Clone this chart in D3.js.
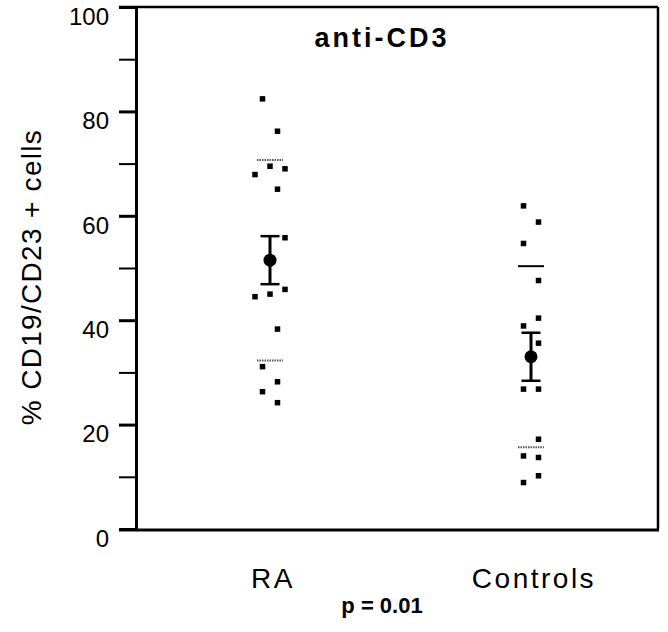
<!DOCTYPE html>
<html>
<head>
<meta charset="utf-8">
<script src="https://cdn.jsdelivr.net/npm/d3@7"></script>
<style>
  body { margin: 0; background: #fff; }
  text { font-family: "Liberation Sans", Arial, Helvetica, sans-serif; fill: #000; }
</style>
</head>
<body>
<script>
// config
const config = {
  svgWidth: 668,
  svgHeight: 632,
  left: 136, // plot frame
  right: 658,
  top: 7,
  bottom: 529,
  tickSize: 17,
  slotWidth: 7.5, // horizontal spread of the scatter columns
  pointSize: 5.5,
  meanRadius: 6.5,
  capWidth: 19,
  sdWidth: 26,
};

// data
const groups = ['RA', 'Controls'];
const raValues = [82.4, 76.2, 69.5, 69.0, 67.9, 65.1, 55.8, 45.9, 45.0, 44.5, 38.3, 31.1, 28.2, 26.3, 24.2];
const raSlots = [-1, 1, 0, 2, -2, 1, 2, 2, 0, -2, 1, -1, 1, -1, 1];
const controlValues = [61.9, 58.8, 54.7, 47.6, 40.4, 38.9, 35.6, 26.8, 26.8, 17.2, 14.0, 13.7, 10.2, 8.9];
const controlSlots = [-1, 1, -1, 1, 1, -1, 1, -1, 1, 1, -1, 1, 1, -1];
const groupMeans = [51.5, 33.0];
const groupSEMs = [4.6, 4.6];
const groupSDs = [19.2, 17.35];
const yTicks = [0, 10, 20, 30, 40, 50, 60, 70, 80, 90, 100];
const yLabelTicks = [0, 20, 40, 60, 80, 100];

const points = [];
raValues.forEach((v, i) => points.push({ group: 'RA', value: v, slot: raSlots[i] }));
controlValues.forEach((v, i) => points.push({ group: 'Controls', value: v, slot: controlSlots[i] }));

const summary = groups.map((g, i) => ({ group: g, mean: groupMeans[i], sem: groupSEMs[i], sd: groupSDs[i] }));

// setup
let svg = d3.select('body')
  .append('svg')
  .attr('width', config.svgWidth)
  .attr('height', config.svgHeight);

let x = d3.scalePoint()
  .domain(groups)
  .range([139.5, 661.5])
  .padding(0.5);

let y = d3.scaleLinear()
  .domain([0, 100])
  .range([config.bottom, config.top]);

// frame
svg.append('line')
  .attr('x1', config.left - config.tickSize).attr('x2', config.right)
  .attr('y1', config.top).attr('y2', config.top)
  .attr('stroke', '#000').attr('stroke-width', 2.5);
svg.append('line')
  .attr('x1', config.right).attr('x2', config.right)
  .attr('y1', config.top).attr('y2', config.bottom)
  .attr('stroke', '#000').attr('stroke-width', 2.5);
svg.append('line')
  .attr('x1', config.left - config.tickSize).attr('x2', config.right + 1)
  .attr('y1', config.bottom + 1).attr('y2', config.bottom + 1)
  .attr('stroke', '#000').attr('stroke-width', 3);

// y axis, labels sit just below their tick as in the scan
let yAxis = d3.axisLeft(y)
  .tickValues(yTicks)
  .tickSize(config.tickSize)
  .tickSizeOuter(0)
  .tickPadding(10)
  .tickFormat((d) => yLabelTicks.includes(d) ? d : '');

let axisG = svg.append('g')
  .attr('transform', `translate(${config.left},0)`)
  .call(yAxis);

axisG.select('.domain')
  .attr('stroke-width', 3);
axisG.selectAll('.tick line')
  .attr('stroke-width', (d) => yLabelTicks.includes(d) ? 3 : 2);
axisG.selectAll('.tick text')
  .attr('dy', '0.72em')
  .style('font-size', '24px')
  .style('font-family', '"Liberation Sans", Arial, sans-serif');

// y axis title
svg.append('text')
  .attr('transform', 'translate(41,277) rotate(-90)')
  .attr('text-anchor', 'middle')
  .style('font-size', '28px')
  .style('letter-spacing', '1.3px')
  .text('% CD19/CD23 + cells');

// chart title
svg.append('text')
  .attr('x', 382)
  .attr('y', 47)
  .attr('text-anchor', 'middle')
  .style('font-size', '27px')
  .style('font-weight', 'bold')
  .style('letter-spacing', '3px')
  .text('anti-CD3');

// group labels
svg.selectAll('.groupLabel')
  .data(groups)
  .enter().append('text')
  .attr('class', 'groupLabel')
  .attr('x', (d) => x(d) + 3)
  .attr('y', 588)
  .attr('text-anchor', 'middle')
  .style('font-size', '28px')
  .style('letter-spacing', '2.5px')
  .text((d) => d);

// p value
svg.append('text')
  .attr('x', 382)
  .attr('y', 613)
  .attr('text-anchor', 'middle')
  .style('font-size', '22px')
  .style('font-weight', 'bold')
  .text('p = 0.01');

// individual values
svg.selectAll('.point')
  .data(points)
  .enter().append('rect')
  .attr('class', 'point')
  .attr('x', (d) => x(d.group) + d.slot * config.slotWidth - config.pointSize / 2)
  .attr('y', (d) => y(d.value) - config.pointSize / 2)
  .attr('width', config.pointSize)
  .attr('height', config.pointSize)
  .attr('fill', '#000');

// sd lines, the scan shows most of them as faint dotted lines
summary.forEach((s) => {
  [s.mean + s.sd, s.mean - s.sd].forEach((v, k) => {
    let solid = s.group === 'Controls' && k === 0;
    svg.append('line')
      .attr('x1', x(s.group) - config.sdWidth / 2)
      .attr('x2', x(s.group) + config.sdWidth / 2)
      .attr('y1', y(v)).attr('y2', y(v))
      .attr('stroke', solid ? '#000' : '#555')
      .attr('stroke-width', 2)
      .attr('stroke-dasharray', solid ? null : '1.5,1');
  });
});

// mean +/- sem
let err = svg.selectAll('.err')
  .data(summary)
  .enter().append('g')
  .attr('class', 'err');

err.append('line')
  .attr('x1', (d) => x(d.group)).attr('x2', (d) => x(d.group))
  .attr('y1', (d) => y(d.mean + d.sem)).attr('y2', (d) => y(d.mean - d.sem))
  .attr('stroke', '#000').attr('stroke-width', 3);

[1, -1].forEach((sign) => {
  err.append('line')
    .attr('x1', (d) => x(d.group) - config.capWidth / 2)
    .attr('x2', (d) => x(d.group) + config.capWidth / 2)
    .attr('y1', (d) => y(d.mean + sign * d.sem))
    .attr('y2', (d) => y(d.mean + sign * d.sem))
    .attr('stroke', '#000').attr('stroke-width', 2.5);
});

err.append('circle')
  .attr('cx', (d) => x(d.group))
  .attr('cy', (d) => y(d.mean))
  .attr('r', config.meanRadius)
  .attr('fill', '#000');
</script>
</body>
</html>
